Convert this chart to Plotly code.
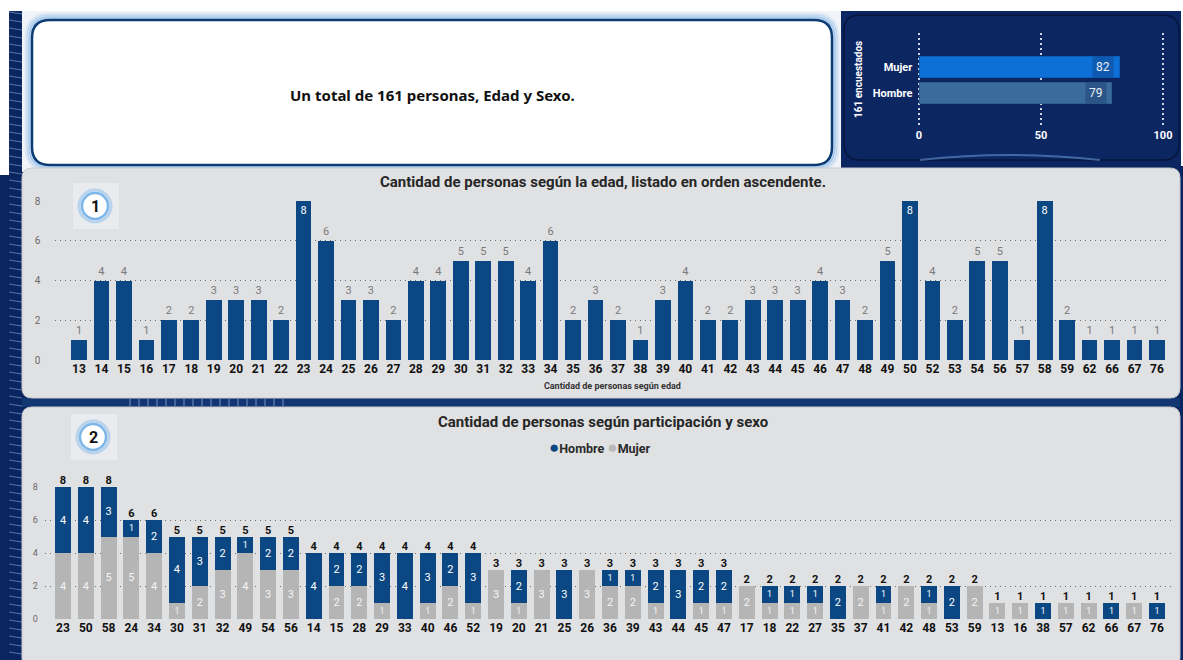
import plotly.graph_objects as go

# ---------------- DATA ----------------
edades = ["13","14","15","16","17","18","19","20","21","22","23","24","25","26","27","28","29",
          "30","31","32","33","34","35","36","37","38","39","40","41","42","43","44","45","46",
          "47","48","49","50","52","53","54","56","57","58","59","62","66","67","76"]
cantidad = [1,4,4,1,2,2,3,3,3,2,8,6,3,3,2,4,4,
            5,5,5,4,6,2,3,2,1,3,4,2,2,3,3,3,4,
            3,2,5,8,4,2,5,5,1,8,2,1,1,1,1]

edades_orden = ["23","50","58","24","34","30","31","32","49","54","56","14","15","28","29","33",
                "40","46","52","19","20","21","25","26","36","39","43","44","45","47","17","18",
                "22","27","35","37","41","42","48","53","59","13","16","38","57","62","66","67","76"]
hombre = [4,4,3,1,2,4,3,2,1,2,2,4,2,2,3,4,
          3,2,3,0,2,0,3,0,1,1,2,3,2,2,0,1,
          1,1,2,0,1,0,1,2,0,0,0,1,0,0,1,0,1]
mujer = [4,4,5,5,4,1,2,3,4,3,3,0,2,2,1,0,
         1,2,1,3,1,3,0,3,2,2,1,0,1,1,2,1,
         1,1,0,2,1,2,1,0,2,1,1,0,1,1,0,1,0]
total_orden = [h + m for h, m in zip(hombre, mujer)]

sexo = ["Hombre", "Mujer"]
sexo_total = [79, 82]

# ---------------- STYLE ----------------
W, H = 1183, 660
NAVY = "#0b2561"
PANEL = "#e0e1e3"
BAR = "#0b4783"
GRAY = "#b5b5b5"
FONT = "Roboto"
GRID_DASH = "1px,4px"


def X(px):
    return px / W


def Y(py):
    return 1 - py / H


def rr(x0, y0, x1, y1, r):
    return (f"M {X(x0+r)},{Y(y0)} L {X(x1-r)},{Y(y0)} Q {X(x1)},{Y(y0)} {X(x1)},{Y(y0+r)} "
            f"L {X(x1)},{Y(y1-r)} Q {X(x1)},{Y(y1)} {X(x1-r)},{Y(y1)} "
            f"L {X(x0+r)},{Y(y1)} Q {X(x0)},{Y(y1)} {X(x0)},{Y(y1-r)} "
            f"L {X(x0)},{Y(y0+r)} Q {X(x0)},{Y(y0)} {X(x0+r)},{Y(y0)} Z")


shapes = []


def add_rr(x0, y0, x1, y1, r, fill, line=None, lw=0):
    shapes.append(dict(type="path", xref="paper", yref="paper", layer="below",
                       path=rr(x0, y0, x1, y1, r), fillcolor=fill,
                       line=dict(color=line if line else "rgba(0,0,0,0)", width=lw)))


def add_rect(x0, y0, x1, y1, fill):
    shapes.append(dict(type="rect", xref="paper", yref="paper", layer="below",
                       x0=X(x0), x1=X(x1), y0=Y(y1), y1=Y(y0), fillcolor=fill, line=dict(width=0)))


# top white strip + left white strip + right white edge of the top row
add_rect(0, 0, W, 11, "#ffffff")
add_rect(0, 0, 9, 175, "#ffffff")
add_rect(1181, 0, W, 166, "#ffffff")
# left navy stripes decoration
for yy in range(12, 660, 8):
    shapes.append(dict(type="line", xref="paper", yref="paper", layer="below",
                       x0=X(9), x1=X(22), y0=Y(yy), y1=Y(yy + 2),
                       line=dict(color="rgba(140,190,230,0.55)", width=1)))
# title frame area
add_rect(22, 11, 841, 172, "#f1f4f8")
for k, a in [(6, 0.12), (4, 0.2), (2, 0.35)]:
    add_rr(32 - k, 20 - k, 832 + k, 165 + k, 18 + k, "rgba(0,0,0,0)", f"rgba(80,150,225,{a})", 3)
add_rr(32, 20, 832, 165, 18, "#ffffff", "#0b3d74", 2.5)

# top right panel
add_rect(841, 11, 1181, 166, "#0c2662")
add_rr(844, 15, 1179, 160, 16, "#0c2662", "#06163c", 1.5)
shapes.append(dict(type="path", xref="paper", yref="paper", layer="below",
                   path=f"M {X(920)},{Y(160)} Q {X(1010)},{Y(150)} {X(1100)},{Y(160)}",
                   line=dict(color="rgba(120,170,230,0.5)", width=2)))

# band between panels
add_rect(22, 398, 1180, 407, "#123672")
for xx in range(130, 290, 9):
    shapes.append(dict(type="line", xref="paper", yref="paper", layer="below",
                       x0=X(xx), x1=X(xx), y0=Y(399), y1=Y(406),
                       line=dict(color="rgba(190,210,240,0.6)", width=1)))

# chart panels
add_rr(22, 168, 1180, 398, 10, PANEL, "#c8cacd", 1)
add_rr(22, 407, 1180, 668, 10, PANEL, "#c8cacd", 1)

# badges
for cx, cy, bx0 in [(95, 206, 73), (93, 437, 71)]:
    add_rect(bx0, cy - 23, bx0 + 46, cy + 23, "#e9ebee")
    shapes.append(dict(type="circle", xref="paper", yref="paper", layer="below",
                       x0=X(cx - 16), x1=X(cx + 16), y0=Y(cy + 16), y1=Y(cy - 16),
                       fillcolor="rgba(0,0,0,0)", line=dict(color="rgba(110,175,235,0.4)", width=3)))
    shapes.append(dict(type="circle", xref="paper", yref="paper", layer="below",
                       x0=X(cx - 13), x1=X(cx + 13), y0=Y(cy + 13), y1=Y(cy - 13),
                       fillcolor="#ffffff", line=dict(color="#7db6ea", width=2.5)))

fig = go.Figure()

# ---------- Chart 1 ----------
pos1 = ["inside" if v == max(cantidad) else "outside" for v in cantidad]
fig.add_trace(go.Bar(x=edades, y=cantidad, text=cantidad, textposition=pos1,
                     insidetextanchor="end", textangle=0, cliponaxis=False,
                     marker=dict(color=BAR, line=dict(width=0)), width=0.7,
                     insidetextfont=dict(color="#ffffff", size=11, family=FONT),
                     outsidetextfont=dict(color="#7a7a7a", size=11, family=FONT),
                     xaxis="x", yaxis="y", showlegend=False))

# ---------- Chart 2 ----------
fig.add_trace(go.Bar(x=edades_orden, y=mujer, name="Mujer",
                     text=[str(v) if v else "" for v in mujer], textposition="inside",
                     insidetextanchor="middle", textangle=0,
                     insidetextfont=dict(color="#f4f4f4", size=11, family=FONT),
                     marker=dict(color=GRAY, line=dict(width=0)), width=0.7,
                     xaxis="x2", yaxis="y2", showlegend=False))
fig.add_trace(go.Bar(x=edades_orden, y=hombre, name="Hombre",
                     text=[str(v) if v else "" for v in hombre], textposition="inside",
                     insidetextanchor="middle", textangle=0,
                     insidetextfont=dict(color="#ffffff", size=11, family=FONT),
                     marker=dict(color=BAR, line=dict(width=0)), width=0.7,
                     xaxis="x2", yaxis="y2", showlegend=False))
fig.add_trace(go.Scatter(x=edades_orden, y=total_orden, mode="text",
                         text=[str(v) for v in total_orden], textposition="top center",
                         textfont=dict(color="#111111", size=11, family=FONT, weight="bold"),
                         cliponaxis=False, xaxis="x2", yaxis="y2", showlegend=False,
                         hoverinfo="skip"))

# ---------- Chart 3 (top right) ----------
fig.add_trace(go.Bar(x=sexo_total, y=sexo, orientation="h",
                     marker=dict(color=["#3a6b9c", "#0d70d6"],
                                 line=dict(color=["#2f5d8c", "#0a5fb8"], width=1)),
                     width=0.8, xaxis="x3", yaxis="y3", showlegend=False))

s1 = (1157 - 79) / 48
s2 = (1157 - 63) / 48
u3 = (1163 - 919) / 100


def ann(x, y, text, size, color, family=FONT, **kw):
    return dict(xref="paper", yref="paper", x=X(x), y=Y(y), xanchor="center", yanchor="middle",
                showarrow=False, text=text, font=dict(size=size, color=color, family=family), **kw)


annotations = [
    ann(432, 95, "<b>Un total de 161 personas, Edad y Sexo.</b>", 15, "#111111", "Noto Sans"),
    ann(603, 182, "<b>Cantidad de personas según la edad, listado en orden ascendente.</b>",
        15, "#262626"),
    ann(603, 422, "<b>Cantidad de personas según participación y sexo</b>", 15, "#262626"),
    ann(600, 447, f"<span style='color:{BAR};font-size:17px'>●</span><b>Hombre</b> "
                  f"<span style='color:#b9b9b9;font-size:17px'>●</span><b>Mujer</b>", 12.5, "#2a2a2a"),
    ann(95, 206, "<b>1</b>", 16, "#111111"),
    ann(93, 437, "<b>2</b>", 16, "#111111"),
    ann(858, 80, "<b>161 encuestados</b>", 10, "#ffffff", textangle=-90),
]
# value labels of the top-right bars (inside end, on a darker box)
for cat, v in zip(sexo, sexo_total):
    annotations.append(dict(xref="x3", yref="y3", x=v, y=cat, xanchor="right", yanchor="middle",
                            xshift=-5, showarrow=False, text=str(v), bgcolor="rgba(20,50,100,0.35)",
                            borderpad=3, font=dict(size=12, color="#e8eef7", family=FONT)))

fig.update_layout(
    width=W, height=H, margin=dict(l=0, r=0, t=0, b=0, autoexpand=False),
    paper_bgcolor=NAVY, plot_bgcolor="rgba(0,0,0,0)",
    barmode="stack", bargap=0.3,
    font=dict(family=FONT),
    shapes=shapes,
    xaxis=dict(domain=[X(79 - 1.05 * s1), X(1157 + 0.55 * s1)], anchor="y", type="category",
               range=[-1.05, 48.55], showgrid=False, ticks="", showline=False,
               tickfont=dict(size=12, color="#111111", family=FONT, weight="bold"),
               title=dict(text="Cantidad de personas según edad", standoff=7,
                          font=dict(size=9, color="#333333", family=FONT, weight="bold"))),
    yaxis=dict(domain=[Y(360), Y(201)], anchor="x", range=[0, 8], dtick=2,
               showgrid=True, gridcolor="#6f6f6f", griddash=GRID_DASH, gridwidth=1.3,
               zeroline=False, ticks="", ticklabelstandoff=14,
               tickfont=dict(size=10, color="#6a6a6a", family=FONT)),
    xaxis2=dict(domain=[X(63 - 0.8 * s2), X(1157 + 0.65 * s2)], anchor="y2", type="category",
                range=[-0.8, 48.65], showgrid=False, ticks="", showline=False,
                tickfont=dict(size=12, color="#111111", family=FONT, weight="bold")),
    yaxis2=dict(domain=[Y(619), Y(487)], anchor="x2", range=[0, 8], dtick=2,
                showgrid=True, gridcolor="#6f6f6f", griddash=GRID_DASH, gridwidth=1.3,
                zeroline=False, ticks="", ticklabelstandoff=6,
                tickfont=dict(size=9, color="#6a6a6a", family=FONT)),
    xaxis3=dict(domain=[X(919 - 1.5 * u3), X(1163 + 1.5 * u3)], anchor="y3", range=[-1.5, 101.5],
                tickvals=[0, 50, 100], showgrid=True, gridcolor="rgba(225,232,245,0.9)",
                griddash="2px,3px", gridwidth=1.5, zeroline=False, ticks="",
                tickfont=dict(size=11, color="#ffffff", family=FONT, weight="bold")),
    yaxis3=dict(domain=[Y(127), Y(33)], anchor="x3", type="category",
                categoryarray=sexo, categoryorder="array",
                range=[-1.31, 2.31], showgrid=False, ticks="", ticklabelstandoff=2,
                tickfont=dict(size=11, color="#ffffff", family=FONT, weight="bold")),
    annotations=annotations,
)

fig.write_html("out.html", config={"displayModeBar": False},
               post_script="document.body.style.margin='0';document.body.style.overflow='hidden';")
